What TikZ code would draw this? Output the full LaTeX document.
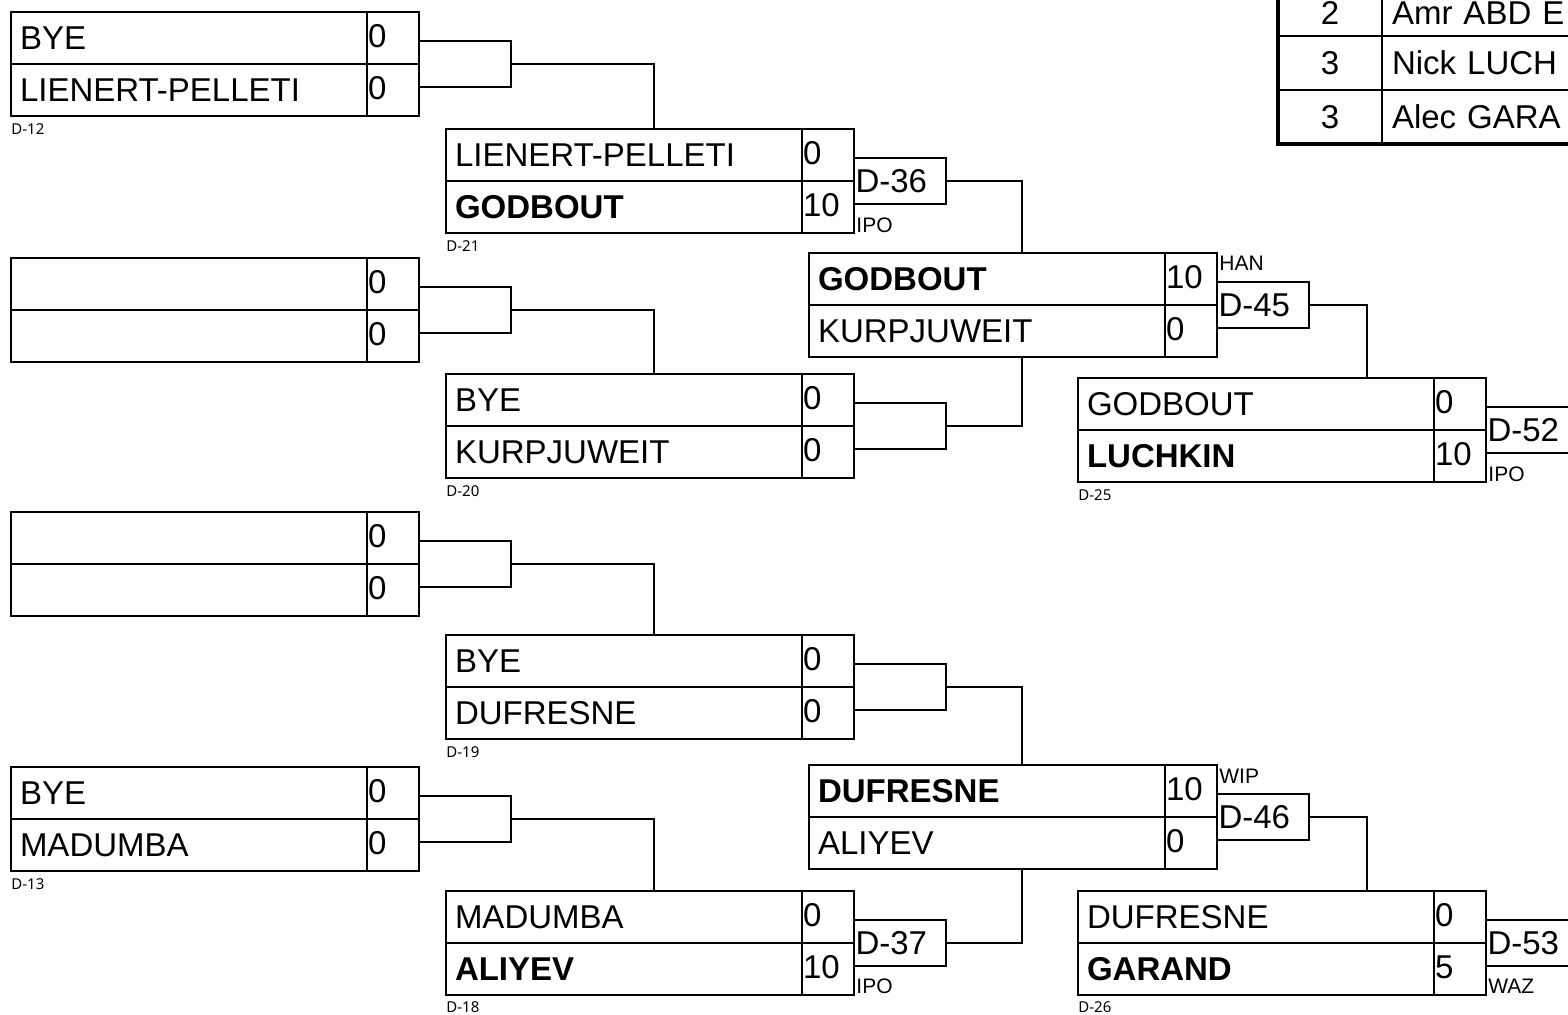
\documentclass[tikz,border=0pt]{standalone}
\usepackage{fontspec}
\setmainfont{Liberation Sans}
\newfontfamily\tagfont{Noto Sans}
\usetikzlibrary{positioning}
\tikzset{
  namecell/.style={draw, line width=1pt, anchor=north west, outer sep=0pt, minimum width=178pt, minimum height=26pt, text width=169pt, inner xsep=4.5pt, inner ysep=0pt, align=left, text height=11.8pt, text depth=0pt, font=\fontsize{16.5}{19}\selectfont},
  scorecell/.style={draw, line width=1pt, outer sep=0pt, minimum width=26pt, minimum height=26pt, text width=25pt, inner xsep=0.5pt, inner ysep=0pt, align=left, text height=11.8pt, text depth=2pt, font=\fontsize{16.5}{19}\selectfont},
  matchbox/.style={draw, line width=1pt, anchor=west, outer sep=0pt, minimum width=46pt, minimum height=23pt, text width=44.5pt, inner xsep=0.75pt, inner ysep=0pt, align=left, text height=11.8pt, text depth=0pt, font=\fontsize{16.5}{19}\selectfont},
  link/.style={line width=1pt},
  boutno/.style={inner sep=0pt, anchor=north west, font=\tagfont\fontsize{7.5}{8}\selectfont},
  referee/.style={inner sep=0pt, font=\fontsize{10.5}{12}\selectfont},
  tnum/.style={draw, line width=1pt, outer sep=0pt, minimum width=52pt, minimum height=27pt, inner sep=0pt, text height=11.8pt, text depth=0pt, font=\fontsize{16.5}{19}\selectfont},
  tname/.style={draw, line width=1pt, outer sep=0pt, minimum width=150pt, minimum height=27pt, text width=140pt, inner xsep=5pt, inner ysep=0pt, align=left, text height=11.8pt, text depth=0pt, font=\fontsize{16.5}{19}\selectfont}
}
% one bout: two name rows with their scores
\newcommand{\bout}[7]{%
  \node[namecell] (#1a) at (#2,#3) {#4};
  \node[scorecell, right=0pt of #1a] (#1as) {#5};
  \node[namecell, below=0pt of #1a] (#1b) {#6};
  \node[scorecell, right=0pt of #1b] (#1bs) {#7};
}

\begin{document}
\begin{tikzpicture}[x=0.5pt,y=-0.5pt]
  \useasboundingbox (0,0) rectangle (1568,1014);
  \clip (0,0) rectangle (1568,1014);

  % First round
  \bout{a1}{11}{12}{BYE}{0}{LIENERT-PELLETI}{0}
  \bout{a2}{11}{258}{}{0}{}{0}
  \bout{a3}{11}{512}{}{0}{}{0}
  \bout{a4}{11}{767}{BYE}{0}{MADUMBA}{0}
  \node[boutno, below right=3.5pt and 0pt of a1b.south west] (n12) {D-12};
  \node[boutno, below right=3.5pt and 0pt of a4b.south west] (n13) {D-13};

  % Second round
  \bout{b1}{446}{129}{LIENERT-PELLETI}{0}{\textbf{GODBOUT}}{10}
  \bout{b2}{446}{374}{BYE}{0}{KURPJUWEIT}{0}
  \bout{b3}{446}{635}{BYE}{0}{DUFRESNE}{0}
  \bout{b4}{446}{891}{MADUMBA}{0}{\textbf{ALIYEV}}{10}
  \node[boutno, below right=3.5pt and 0pt of b1b.south west] (n21) {D-21};
  \node[boutno, below right=3.5pt and 0pt of b2b.south west] (n20) {D-20};
  \node[boutno, below right=3.5pt and 0pt of b3b.south west] (n19) {D-19};
  \node[boutno, below right=3pt and 0pt of b4b.south west] (n18) {D-18};

  % Third round
  \bout{c1}{809}{253}{\textbf{GODBOUT}}{10}{KURPJUWEIT}{0}
  \bout{c2}{809}{765}{\textbf{DUFRESNE}}{10}{ALIYEV}{0}

  % Fourth round
  \bout{d1}{1078}{378}{GODBOUT}{0}{\textbf{LUCHKIN}}{10}
  \bout{d2}{1078}{891}{DUFRESNE}{0}{\textbf{GARAND}}{5}
  \node[boutno, below right=3.5pt and 0pt of d1b.south west] (n25) {D-25};
  \node[boutno, below right=3pt and 0pt of d2b.south west] (n26) {D-26};

  % Brackets and match boxes
  \node[matchbox] (j1) at (a1as.south east) {};
  \node[matchbox] (j2) at (a2as.south east) {};
  \node[matchbox] (j3) at (a3as.south east) {};
  \node[matchbox] (j4) at (a4as.south east) {};
  \node[matchbox] (m36) at (b1as.south east) {D-36};
  \node[matchbox] (j5) at (b2as.south east) {};
  \node[matchbox] (j6) at (b3as.south east) {};
  \node[matchbox] (m37) at (b4as.south east) {D-37};
  \node[matchbox] (m45) at (c1as.south east) {D-45};
  \node[matchbox] (m46) at (c2as.south east) {D-46};
  \node[matchbox] (m52) at (d1as.south east) {D-52};
  \node[matchbox] (m53) at (d2as.south east) {D-53};

  \node[referee, below right=6.5pt and 1pt of m36.south west] (r36) {IPO};
  \node[referee, below right=6pt and 1pt of m37.south west] (r37) {IPO};
  \node[referee, above right=5.5pt and 1pt of m45.north west] (r45) {HAN};
  \node[referee, above right=5pt and 1pt of m46.north west] (r46) {WIP};
  \node[referee, below right=6.5pt and 1pt of m52.south west] (r52) {IPO};
  \node[referee, below right=6.5pt and 1pt of m53.south west] (r53) {WAZ};

  % Winner lines
  \draw[link] (j1.east) -| ([xshift=104pt]b1a.north west);
  \draw[link] (j2.east) -| ([xshift=104pt]b2a.north west);
  \draw[link] (j3.east) -| ([xshift=104pt]b3a.north west);
  \draw[link] (j4.east) -| ([xshift=104pt]b4a.north west);
  \draw[link] (m36.east) -| ([xshift=106.5pt]c1a.north west);
  \draw[link] (j5.east) -| ([xshift=106.5pt]c1b.south west);
  \draw[link] (j6.east) -| ([xshift=106.5pt]c2a.north west);
  \draw[link] (m37.east) -| ([xshift=106.5pt]c2b.south west);
  \draw[link] (m45.east) -| ([xshift=144.5pt]d1a.north west);
  \draw[link] (m46.east) -| ([xshift=144.5pt]d2a.north west);

  % Medal table
  \node[tnum, anchor=north west, minimum height=25pt, text height=13.2pt] (t1) at (1278,-14) {2};
  \node[tname, right=0pt of t1, minimum height=25pt, text height=13.2pt] (t1x) {Amr ABD E};
  \node[tnum, below=0pt of t1] (t2) {3};
  \node[tname, right=0pt of t2] (t2x) {Nick LUCH};
  \node[tnum, below=0pt of t2] (t3) {3};
  \node[tname, right=0pt of t3] (t3x) {Alec GARA};
  \draw[line width=2.2pt] (t1.north west) -- (t3.south west) -- (t3x.south east);
\end{tikzpicture}
\end{document}
